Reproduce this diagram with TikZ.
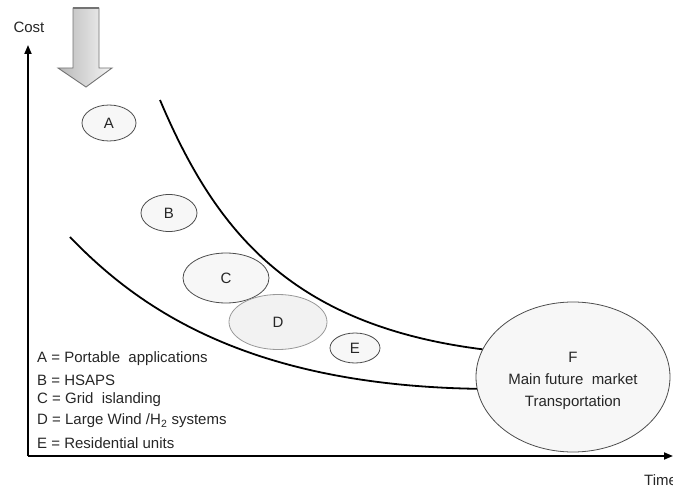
\documentclass[tikz,border=0pt]{standalone}
\usepackage{fontspec}
\setmainfont{Liberation Sans}
\usetikzlibrary{arrows.meta,shapes.geometric}
\begin{document}
\begin{tikzpicture}[x=1pt,y=-1pt,
  txt/.style={font=\fontsize{15}{19}\selectfont, text=black!85, inner sep=0pt},
  ell/.style={ellipse, draw=black!70, line width=0.8pt, fill=black!3, inner sep=0pt, txt},
  curve/.style={line width=1.8pt, black},
  axis/.style={line width=1.8pt, black, -{Triangle[length=9pt,width=7pt]}},
  bigarrow/.style={draw=black!55, line width=0.9pt, left color=black!28, right color=black!4}
]
\useasboundingbox (0,0) rectangle (673,487);
% axes
\coordinate (O) at (28,456);
\coordinate (Ytop) at (28,45);
\coordinate (Xend) at (673,456);
\draw[axis] (O) -- (Ytop);
\draw[axis] (O) -- (Xend);
\node[txt] (cost) at (29,27) {Cost};
\node[txt, anchor=west] (time) at (644,480) {Time};
% big arrow
\draw[bigarrow] (73,8) -- (99,8) -- (99,68) -- (112,68) -- (86,87) -- (58,68) -- (73,68) -- cycle;
\draw[draw=black!55, line width=2pt] (73,8) -- (99,8);
% ellipses
\node[ell, minimum width=54pt, minimum height=36pt] (A) at (109,123) {A};
\node[ell, minimum width=56pt, minimum height=37pt] (B) at (169,213) {B};
\node[ell, minimum width=86pt, minimum height=50pt] (C) at (226,278) {C};
\node[ell, draw=black!40, fill=black!5, minimum width=98pt, minimum height=55pt] (D) at (278,322) {D};
\node[ell, minimum width=50pt, minimum height=30pt] (E) at (355,348) {E};
\node[ell, minimum width=194pt, minimum height=150pt] (F) at (573,377) {};
\node[txt, align=center] (Ftxt) at (573,381) {F\\[3pt]Main future\ \ market\\[3pt]Transportation};
% curves
\coordinate (U0) at (160,100);
\coordinate (L0) at (70,237);
\draw[curve] (U0) .. controls (215,230) and (290,325) .. (F.163.5);
\draw[curve] (L0) .. controls (140,310) and (250,385) .. (F.187);
% legend
\node[txt, anchor=west] (la) at (37,359) {A = Portable\ \ applications};
\node[txt, anchor=west] (lb) at (37,380) {B = HSAPS};
\node[txt, anchor=west] (lc) at (37,400) {C = Grid\ \ islanding};
\node[txt, anchor=west] (ld) at (37,421) {D = Large Wind /H\textsubscript{2} systems};
\node[txt, anchor=west] (le) at (37,443) {E = Residential units};
\end{tikzpicture}
\end{document}
